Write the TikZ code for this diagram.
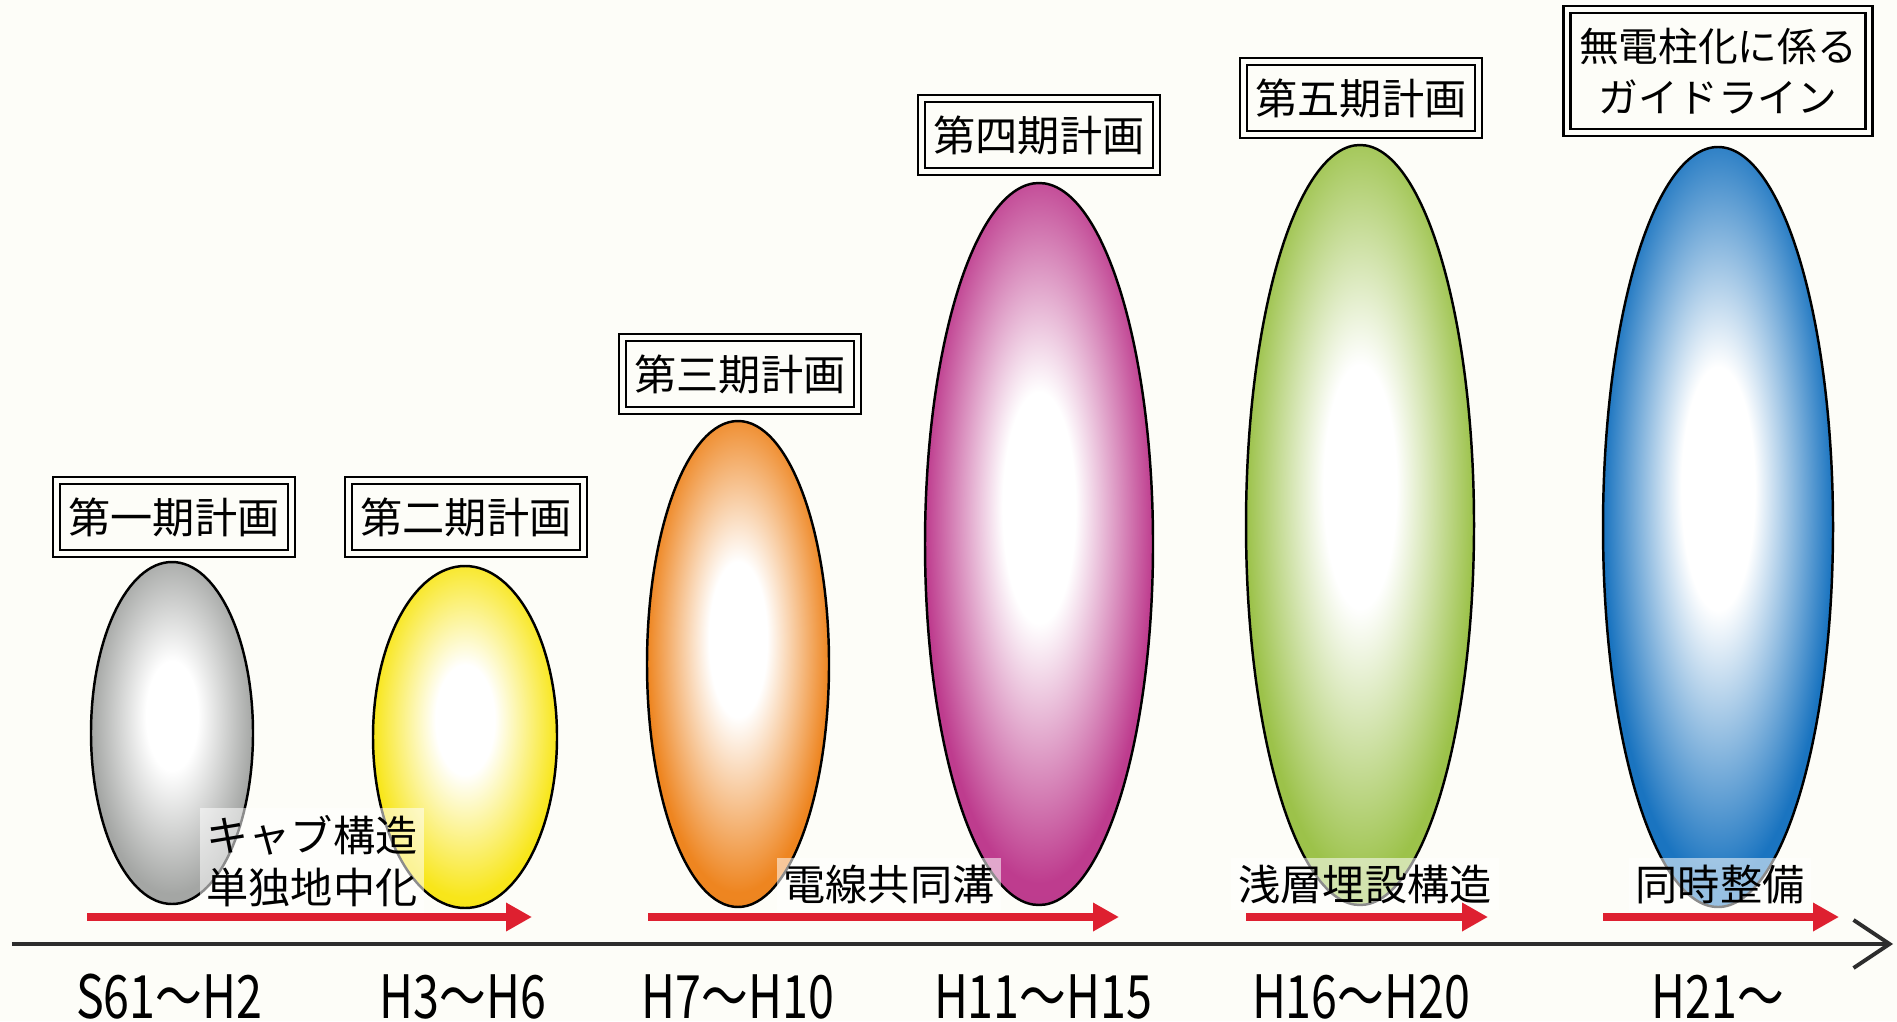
\documentclass[tikz,border=0pt]{standalone}
\usepackage{fontspec}
\usepackage{graphicx}
\usetikzlibrary{shapes.geometric,arrows.meta}
\setmainfont{Noto Sans CJK JP}
\definecolor{paper}{RGB}{253,253,248}
\definecolor{eggcol}{RGB}{160,160,160}
\definecolor{redline}{RGB}{222,32,48}
\definecolor{axisgray}{RGB}{45,45,45}
\pgfdeclareradialshading[eggcol]{eggshade}{\pgfpoint{0bp}{3bp}}%
  {color(0bp)=(white); color(8bp)=(white); color(25bp)=(eggcol); color(50bp)=(eggcol!92!black)}

\begin{document}
\begin{tikzpicture}[line width=.7pt,
  egg/.style={ellipse,draw,inner sep=0pt,shading=eggshade,/utils/exec={\colorlet{eggcol}{#1}}},
  plan/.style={draw,double=paper,double distance=1.4pt,line width=.6pt,inner sep=3pt,
    minimum width=2.35cm,minimum height=.73cm,align=center,font=\fontsize{12}{14.5}\selectfont},
  tag/.style={fill=white,fill opacity=.55,text opacity=1,inner sep=2pt,align=center,
    font=\fontsize{12}{15}\selectfont},
  year/.style={anchor=base,font=\fontsize{17}{20}\selectfont},
  span/.style={draw=redline,line width=2pt,-{Triangle[length=.26cm,width=.27cm]}}]
\useasboundingbox (0,0) rectangle (18.97,10.21);
\fill[paper] (0,0) rectangle (18.97,10.21);

% plans
\node[egg={rgb,255:red,164;green,166;blue,164},minimum width=1.62cm,minimum height=3.42cm] (egg1) at (1.72,2.88) {};
\node[egg={rgb,255:red,248;green,230;blue,26},minimum width=1.84cm,minimum height=3.42cm] (egg2) at (4.65,2.84) {};
\node[egg={rgb,255:red,238;green,133;blue,32},minimum width=1.82cm,minimum height=4.86cm] (egg3) at (7.38,3.57) {};
\node[egg={rgb,255:red,190;green,60;blue,142},minimum width=2.28cm,minimum height=7.22cm] (egg4) at (10.39,4.77) {};
\node[egg={rgb,255:red,156;green,194;blue,74},minimum width=2.28cm,minimum height=7.6cm] (egg5) at (13.60,4.96) {};
\node[egg={rgb,255:red,26;green,116;blue,192},minimum width=2.30cm,minimum height=7.6cm] (egg6) at (17.18,4.94) {};

\node[plan] (plan1) at (1.74,5.04) {第一期計画};
\node[plan] (plan2) at (4.66,5.04) {第二期計画};
\node[plan] (plan3) at (7.40,6.47) {第三期計画};
\node[plan] (plan4) at (10.39,8.86) {第四期計画};
\node[plan] (plan5) at (13.61,9.23) {第五期計画};
\node[plan,minimum width=3.02cm,minimum height=1.23cm,font=\fontsize{11.3}{14.5}\selectfont] (plan6) at (17.18,9.50) {無電柱化に係る\\ガイドライン};

% methods
\node[tag] (way1) at (3.12,1.60) {キャブ構造\\単独地中化};
\node[tag] (way2) at (8.89,1.37) {電線共同溝};
\node[tag] (way3) at (13.65,1.37) {浅層埋設構造};
\node[tag] (way4) at (17.20,1.37) {同時整備};

\coordinate (a1) at (0.87,1.04);  \coordinate (b1) at (5.32,1.04);
\coordinate (a2) at (6.48,1.04);  \coordinate (b2) at (11.19,1.04);
\coordinate (a3) at (12.46,1.04); \coordinate (b3) at (14.88,1.04);
\coordinate (a4) at (16.03,1.04); \coordinate (b4) at (18.39,1.04);
\foreach \i in {1,...,4}
  \draw[span] (a\i) -- (b\i);

% time axis
\coordinate (t0) at (0.12,0.77);
\coordinate (t1) at (18.93,0.77);
\draw[axisgray,line width=1.1pt,-{Straight Barb[length=.36cm,width=.48cm]}] (t0) -- (t1);

\node[year] (yr1) at (1.69,0.03) {\scalebox{.78}[1]{S61～H2}};
\node[year] (yr2) at (4.63,0.03) {\scalebox{.78}[1]{H3～H6}};
\node[year] (yr3) at (7.38,0.03) {\scalebox{.78}[1]{H7～H10}};
\node[year] (yr4) at (10.43,0.03) {\scalebox{.78}[1]{H11～H15}};
\node[year] (yr5) at (13.61,0.03) {\scalebox{.78}[1]{H16～H20}};
\node[year] (yr6) at (17.18,0.03) {\scalebox{.78}[1]{H21～}};
\end{tikzpicture}
\end{document}
